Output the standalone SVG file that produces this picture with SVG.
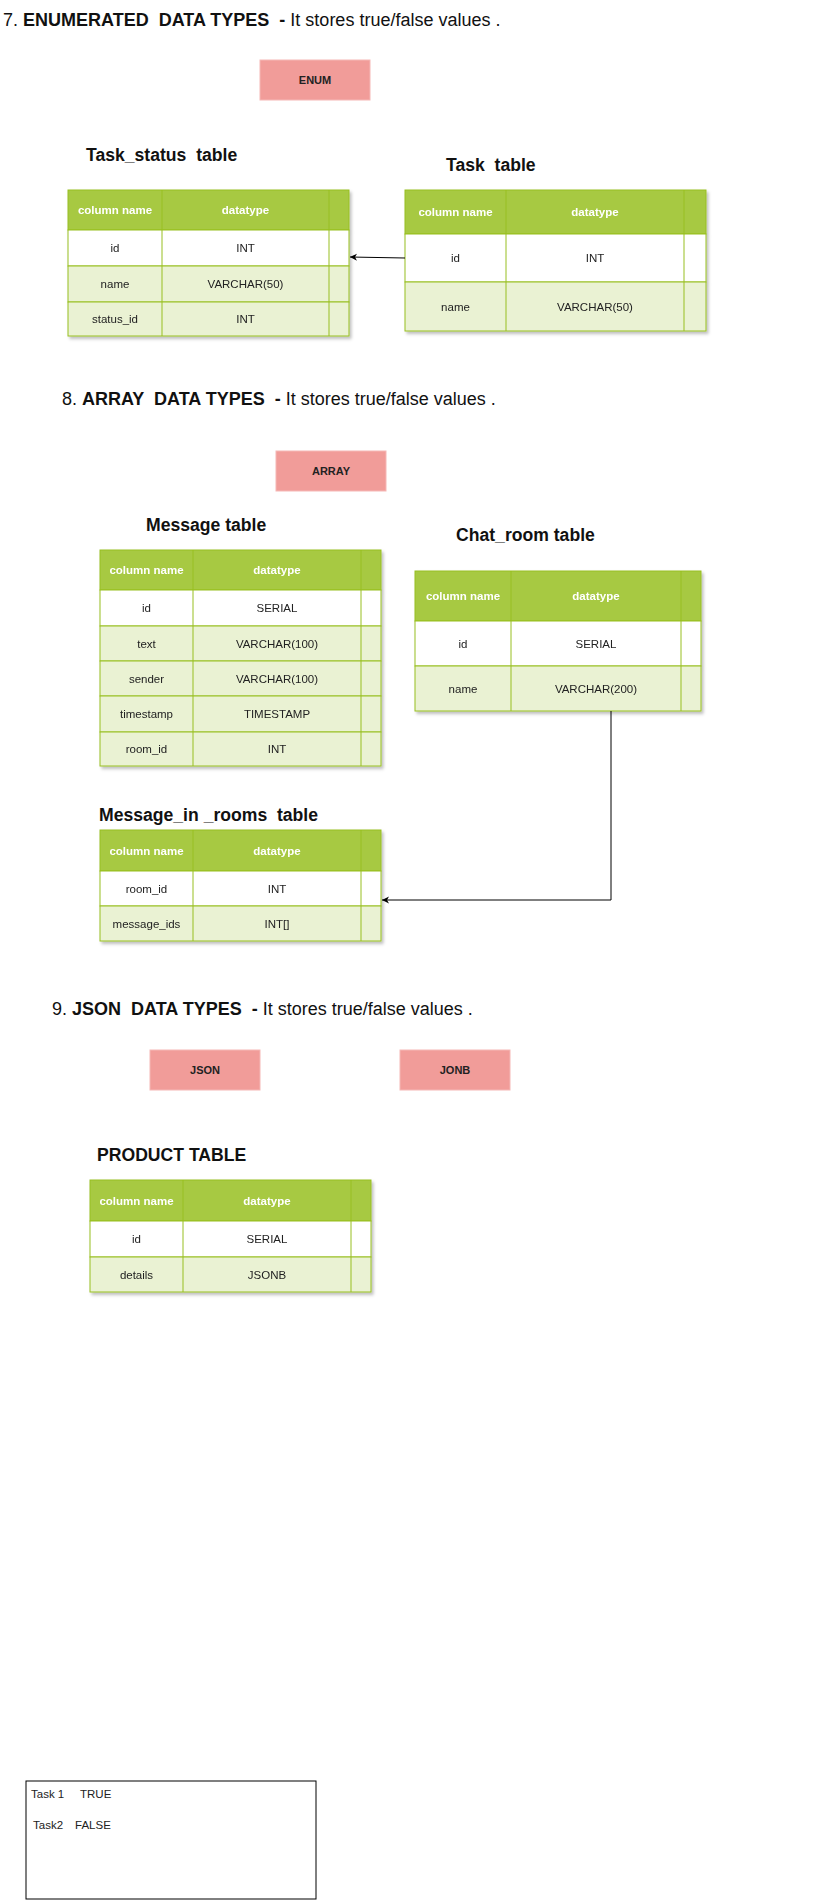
<svg xmlns="http://www.w3.org/2000/svg" width="830" height="1901" viewBox="0 0 830 1901">
<style>
.sec{font-family:"Liberation Sans",Arial,sans-serif;font-size:18px;fill:#111;white-space:pre}
.b{font-weight:bold}
.ttl{font-family:"Liberation Sans",Arial,sans-serif;font-size:17.6px;font-weight:bold;fill:#111;white-space:pre}
.hdr{fill:#A7C942;stroke:#98BF21;stroke-width:1}
.rw{fill:#FFFFFF;stroke:#98BF21;stroke-width:1}
.ra{fill:#EAF2D3;stroke:#98BF21;stroke-width:1}
.sep{stroke:#98BF21;stroke-width:1}
.ht{font-family:"Liberation Sans",Arial,sans-serif;font-size:11.5px;font-weight:bold;fill:#FFFFFF;text-anchor:middle;dominant-baseline:central}
.ct{font-family:"Liberation Sans",Arial,sans-serif;font-size:11.5px;fill:#222;text-anchor:middle;dominant-baseline:central}
.pk{fill:#F19C99;stroke:#F5B8B6;stroke-width:1}
.pt{font-family:"Liberation Sans",Arial,sans-serif;font-size:11px;font-weight:bold;fill:#222;text-anchor:middle;dominant-baseline:central}
.edge{fill:none;stroke:#000;stroke-width:1}
.nt{font-family:"Liberation Sans",Arial,sans-serif;font-size:11.5px;fill:#222}
</style>
<defs>
<filter id="sh" x="-5%" y="-5%" width="115%" height="120%">
<feDropShadow dx="2" dy="2.5" stdDeviation="1.5" flood-color="#000" flood-opacity="0.25"/>
</filter>
<marker id="arr" markerWidth="8" markerHeight="8" refX="7" refY="4" orient="auto" markerUnits="userSpaceOnUse">
<path d="M0,0.5 L7,4 L0,7.5 L2,4 Z" fill="#000"/>
</marker>
</defs>
<rect width="830" height="1901" fill="#FFFFFF"/>

<g id="sec7"><text class="sec" x="3" y="26">7. <tspan class="b">ENUMERATED  DATA TYPES  -</tspan> It stores true/false values .</text></g>
<g id="enum"><rect class="pk" x="260" y="60" width="110" height="40"/><text class="pt" x="315" y="80">ENUM</text></g>

<g id="task_status_title"><text class="ttl" x="86" y="161">Task_status  table</text></g>
<g id="task_status" filter="url(#sh)">
<rect class="hdr" x="68" y="190" width="281" height="40"/>
<rect class="rw" x="68" y="230" width="281" height="36"/>
<rect class="ra" x="68" y="266" width="281" height="36"/>
<rect class="ra" x="68" y="302" width="281" height="34"/>
<line class="sep" x1="162" y1="190" x2="162" y2="336"/>
<line class="sep" x1="329" y1="190" x2="329" y2="336"/>
<text class="ht" x="115" y="210">column name</text><text class="ht" x="245.5" y="210">datatype</text>
<text class="ct" x="115" y="248">id</text><text class="ct" x="245.5" y="248">INT</text>
<text class="ct" x="115" y="284">name</text><text class="ct" x="245.5" y="284">VARCHAR(50)</text>
<text class="ct" x="115" y="319">status_id</text><text class="ct" x="245.5" y="319">INT</text>
</g>

<g id="task_title"><text class="ttl" x="446" y="171">Task  table</text></g>
<g id="task" filter="url(#sh)">
<rect class="hdr" x="405" y="190" width="301" height="44"/>
<rect class="rw" x="405" y="234" width="301" height="48"/>
<rect class="ra" x="405" y="282" width="301" height="49"/>
<line class="sep" x1="506" y1="190" x2="506" y2="331"/>
<line class="sep" x1="684" y1="190" x2="684" y2="331"/>
<text class="ht" x="455.5" y="212">column name</text><text class="ht" x="595" y="212">datatype</text>
<text class="ct" x="455.5" y="258">id</text><text class="ct" x="595" y="258">INT</text>
<text class="ct" x="455.5" y="306.5">name</text><text class="ct" x="595" y="306.5">VARCHAR(50)</text>
</g>

<g id="sec8"><text class="sec" x="62" y="405">8. <tspan class="b">ARRAY  DATA TYPES  -</tspan> It stores true/false values .</text></g>
<g id="array"><rect class="pk" x="276" y="451" width="110" height="40"/><text class="pt" x="331" y="471">ARRAY</text></g>

<g id="message_title"><text class="ttl" x="146" y="531">Message table</text></g>
<g id="message" filter="url(#sh)">
<rect class="hdr" x="100" y="550" width="281" height="40"/>
<rect class="rw" x="100" y="590" width="281" height="36"/>
<rect class="ra" x="100" y="626" width="281" height="35"/>
<rect class="ra" x="100" y="661" width="281" height="35"/>
<rect class="ra" x="100" y="696" width="281" height="36"/>
<rect class="ra" x="100" y="732" width="281" height="34"/>
<line class="sep" x1="193" y1="550" x2="193" y2="766"/>
<line class="sep" x1="361" y1="550" x2="361" y2="766"/>
<text class="ht" x="146.5" y="570">column name</text><text class="ht" x="277" y="570">datatype</text>
<text class="ct" x="146.5" y="608">id</text><text class="ct" x="277" y="608">SERIAL</text>
<text class="ct" x="146.5" y="643.5">text</text><text class="ct" x="277" y="643.5">VARCHAR(100)</text>
<text class="ct" x="146.5" y="678.5">sender</text><text class="ct" x="277" y="678.5">VARCHAR(100)</text>
<text class="ct" x="146.5" y="714">timestamp</text><text class="ct" x="277" y="714">TIMESTAMP</text>
<text class="ct" x="146.5" y="749">room_id</text><text class="ct" x="277" y="749">INT</text>
</g>

<g id="chat_room_title"><text class="ttl" x="456" y="541">Chat_room table</text></g>
<g id="chat_room" filter="url(#sh)">
<rect class="hdr" x="415" y="571" width="286" height="50"/>
<rect class="rw" x="415" y="621" width="286" height="45"/>
<rect class="ra" x="415" y="666" width="286" height="45"/>
<line class="sep" x1="511" y1="571" x2="511" y2="711"/>
<line class="sep" x1="681" y1="571" x2="681" y2="711"/>
<text class="ht" x="463" y="596">column name</text><text class="ht" x="596" y="596">datatype</text>
<text class="ct" x="463" y="643.5">id</text><text class="ct" x="596" y="643.5">SERIAL</text>
<text class="ct" x="463" y="688.5">name</text><text class="ct" x="596" y="688.5">VARCHAR(200)</text>
</g>

<g id="message_in_rooms_title"><text class="ttl" x="99" y="821">Message_in _rooms  table</text></g>
<g id="message_in_rooms" filter="url(#sh)">
<rect class="hdr" x="100" y="830" width="281" height="41"/>
<rect class="rw" x="100" y="871" width="281" height="35"/>
<rect class="ra" x="100" y="906" width="281" height="35"/>
<line class="sep" x1="193" y1="830" x2="193" y2="941"/>
<line class="sep" x1="361" y1="830" x2="361" y2="941"/>
<text class="ht" x="146.5" y="850.5">column name</text><text class="ht" x="277" y="850.5">datatype</text>
<text class="ct" x="146.5" y="888.5">room_id</text><text class="ct" x="277" y="888.5">INT</text>
<text class="ct" x="146.5" y="923.5">message_ids</text><text class="ct" x="277" y="923.5">INT[]</text>
</g>

<g id="sec9"><text class="sec" x="52" y="1015">9. <tspan class="b">JSON  DATA TYPES  -</tspan> It stores true/false values .</text></g>
<g id="json"><rect class="pk" x="150" y="1050" width="110" height="40"/><text class="pt" x="205" y="1070">JSON</text></g>
<g id="jonb"><rect class="pk" x="400" y="1050" width="110" height="40"/><text class="pt" x="455" y="1070">JONB</text></g>

<g id="product_title"><text class="ttl" x="97" y="1161">PRODUCT TABLE</text></g>
<g id="product" filter="url(#sh)">
<rect class="hdr" x="90" y="1180" width="281" height="41"/>
<rect class="rw" x="90" y="1221" width="281" height="36"/>
<rect class="ra" x="90" y="1257" width="281" height="35"/>
<line class="sep" x1="183" y1="1180" x2="183" y2="1292"/>
<line class="sep" x1="351" y1="1180" x2="351" y2="1292"/>
<text class="ht" x="136.5" y="1200.5">column name</text><text class="ht" x="267" y="1200.5">datatype</text>
<text class="ct" x="136.5" y="1239">id</text><text class="ct" x="267" y="1239">SERIAL</text>
<text class="ct" x="136.5" y="1274.5">details</text><text class="ct" x="267" y="1274.5">JSONB</text>
</g>

<g id="note">
<rect x="26" y="1781" width="290" height="118" fill="none" stroke="#000" stroke-width="1"/>
<text class="nt" x="31" y="1798">Task 1<tspan x="80">TRUE</tspan></text>
<text class="nt" x="33" y="1829">Task2<tspan x="75">FALSE</tspan></text>
</g>

<g id="connectors">
<path class="edge" d="M405,258 L350,257" marker-end="url(#arr)"/>
<path class="edge" d="M611,711 L611,900 L382,900" marker-end="url(#arr)"/>
</g>
</svg>
